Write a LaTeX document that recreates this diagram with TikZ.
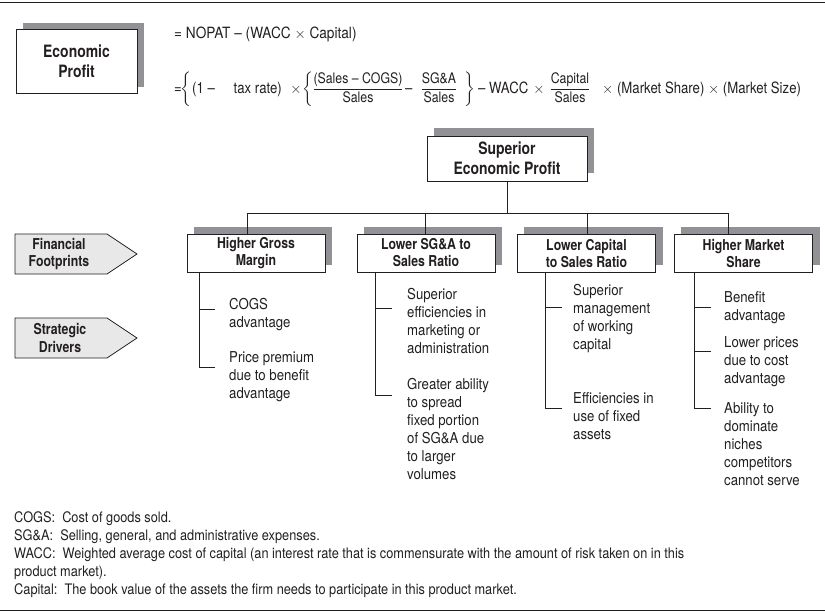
\documentclass[tikz,border=0pt]{standalone}
\usepackage{fontspec}
\usepackage{amsmath}
\setmainfont{TeX Gyre Heros}[FakeStretch=0.88]
\newfontfamily\bdf{TeX Gyre Heros}[FakeStretch=0.82]
\newfontfamily\eqf{TeX Gyre Heros}[FakeStretch=0.85]
\usetikzlibrary{calc,backgrounds}
\definecolor{shd}{RGB}{146,146,150}
\definecolor{arrfill}{RGB}{232,232,232}
\definecolor{ink}{RGB}{35,31,32}
\newcommand\myfrac[2]{\ensuremath{\dfrac{\text{\eqf\fontsize{14.5}{16}\selectfont #1}}{\text{\eqf\fontsize{14.5}{16}\selectfont #2}}}}
\newcommand\mylbr{\ensuremath{\left\{\vphantom{\dfrac{A}{B}}\right.}}
\newcommand\myrbr{\ensuremath{\left.\vphantom{\dfrac{A}{B}}\right\}}}
\newcommand\mytimes{\ensuremath{\times}}
\begin{document}
\begin{tikzpicture}[x=1pt,y=-1pt,
  ln/.style={draw=ink, line width=0.8pt},
  sbox/.style={draw=ink, fill=white, line width=0.8pt, inner sep=0pt, align=center,
    text=ink, font=\bdf\bfseries\fontsize{15}{17}\selectfont},
  bigtitle/.style={font=\bdf\bfseries\fontsize{17}{20}\selectfont},
  arrlabel/.style={align=center, text=ink, inner sep=0pt, font=\bdf\bfseries\fontsize{15}{17.5}\selectfont},
  bullet/.style={anchor=north west, align=left, inner sep=0pt, text=ink, font=\fontsize{15}{18}\selectfont},
  eqtext/.style={anchor=base west, inner sep=0pt, text=ink, font=\eqf\fontsize{15.5}{18}\selectfont},
  eqmid/.style={anchor=base, inner sep=0pt, text=ink, font=\eqf\fontsize{15.5}{18}\selectfont}
]
\useasboundingbox (0,0) rectangle (825,614);

% rules
\draw[ln, line width=1pt] (0,2) -- (825,2);
\draw[ln, line width=1pt] (0,610) -- (825,610);

% top box and formula
\node[sbox, bigtitle, minimum width=121pt, minimum height=64pt] (ep) at (76.5,61) {Economic\\Profit};
\node[eqtext, font=\fontsize{15.5}{18}\selectfont] (eq1) at (174,38) {= NOPAT – (WACC \mytimes\ Capital)};
\node[eqtext] (e1) at (174,93) {=};
\node[eqtext] (e2) at (180,93) {\mylbr};
\node[eqtext] (e3) at (192,93) {(1 –};
\node[eqtext, anchor=base east] (e3b) at (282,93) {tax rate)};
\node[eqmid] (e4) at (296,93) {\mytimes};
\node[eqtext] (e5) at (302,93) {\mylbr};
\node[eqmid] (e6) at (358,93) {\myfrac{(Sales – COGS)}{Sales}};
\node[eqtext] (e7) at (405,93) {–};
\node[eqmid] (e8) at (439,93) {\myfrac{SG\&A}{Sales}};
\node[eqtext] (e9) at (463,93) {\myrbr};
\node[eqtext] (e10) at (478,93) {– WACC};
\node[eqmid] (e11) at (539,93) {\mytimes};
\node[eqmid] (e12) at (570,93) {\myfrac{Capital}{Sales}};
\node[eqtext] (e13) at (602,93) {\mytimes\ (Market Share) \mytimes\ (Market Size)};

% hierarchy
\node[sbox, bigtitle, minimum width=160pt, minimum height=45pt] (sep) at (507,158.5) {Superior\\Economic Profit};
\node[sbox, minimum width=138pt, minimum height=38pt] (b1) at (256,253) {Higher Gross\\Margin};
\node[sbox, minimum width=138pt, minimum height=38pt] (b2) at (426,253) {Lower SG\&A to\\Sales Ratio};
\node[sbox, minimum width=138pt, minimum height=38pt] (b3) at (586.5,253) {Lower Capital\\to Sales Ratio};
\node[sbox, minimum width=138pt, minimum height=38pt] (b4) at (743.5,253) {Higher Market\\Share};

% shadows
\begin{scope}[on background layer]
\foreach \n/\dy in {ep/6, sep/8, b1/7, b2/7, b3/7, b4/7}
  \fill[shd] ($(\n.south west)+(7,-\dy)$) rectangle ($(\n.north east)+(7,-\dy)$);
\end{scope}

\coordinate (j1) at (247,213);
\coordinate (j2) at (425,213);
\coordinate (j3) at (587,213);
\coordinate (j4) at (728,213);
\draw[ln] (sep.south) -- (sep.south |- j1);
\draw[ln] (j1) -- (j4);
\draw[ln] (j1) -- (j1 |- b1.north);
\draw[ln] (j2) -- (j2 |- b2.north);
\draw[ln] (j3) -- (j3 |- b3.north);
\draw[ln] (j4) -- (j4 |- b4.north);

% left arrows
\draw[ln, fill=arrfill] (15,234) -- (107,234) -- (137,254) -- (107,274) -- (15,274) -- cycle;
\node[arrlabel] (ff) at (59,254) {Financial\\Footprints};
\draw[ln, fill=arrfill] (15,318) -- (107,318) -- (137,338) -- (107,358) -- (15,358) -- cycle;
\node[arrlabel] (sd) at (60,338) {Strategic\\Drivers};

% bullet trees
\coordinate (v1) at (199,367);
\draw[ln] (v1 |- b1.south) -- (v1) -- ++(16,0);
\draw[ln] (199,309) -- ++(16,0);
\node[bullet] (t11) at (229,298.5) {COGS\\advantage};
\node[bullet] (t12) at (229,351.5) {Price premium\\due to benefit\\advantage};

\coordinate (v2) at (375,395);
\draw[ln] (v2 |- b2.south) -- (v2) -- ++(17,0);
\draw[ln] (375,308) -- ++(17,0);
\node[bullet] (t21) at (407,288.5) {Superior\\efficiencies in\\marketing or\\administration};
\node[bullet] (t22) at (407,378.5) {Greater ability\\to spread\\fixed portion\\of SG\&A due\\to larger\\volumes};

\coordinate (v3) at (545,408);
\draw[ln] (v3 |- b3.south) -- (v3) -- ++(17,0);
\draw[ln] (545,307) -- ++(17,0);
\node[bullet] (t31) at (573,284.5) {Superior\\management\\of working\\capital};
\node[bullet] (t32) at (573,392.5) {Efficiencies in\\use of fixed\\assets};

\coordinate (v4) at (694,408);
\draw[ln] (v4 |- b4.south) -- (v4) -- ++(17,0);
\draw[ln] (694,307) -- ++(17,0);
\draw[ln] (694,351) -- ++(17,0);
\node[bullet] (t41) at (724,291.5) {Benefit\\advantage};
\node[bullet] (t42) at (724,336.5) {Lower prices\\due to cost\\advantage};
\node[bullet] (t43) at (724,402.5) {Ability to\\dominate\\niches\\competitors\\cannot serve};

% footnotes
\node[bullet, font=\fontsize{14.5}{18}\selectfont] (fn) at (14,511.5) {COGS:\ \ Cost of goods sold.\\SG\&A:\ \ Selling, general, and administrative expenses.\\WACC:\ \ Weighted average cost of capital (an interest rate that is commensurate with the amount of risk taken on in this\\product market).\\Capital:\ \ The book value of the assets the firm needs to participate in this product market.};
\end{tikzpicture}
\end{document}
